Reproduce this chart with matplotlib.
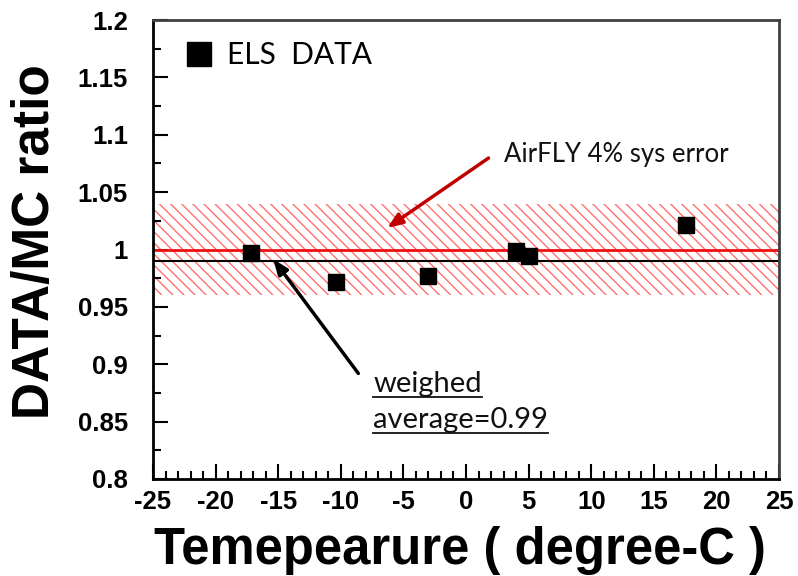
import matplotlib
matplotlib.use("Agg")
import matplotlib.pyplot as plt
from matplotlib.lines import Line2D
from matplotlib.ticker import FixedLocator, MultipleLocator

# ---- data ----
temperature = [-17.2, -10.4, -3.0, 4.0, 5.0, 17.6]
ratio = [0.997, 0.972, 0.977, 0.999, 0.994, 1.021]
reference_value = 1.0
weighted_average = 0.99
sys_band = (0.96, 1.04)
x_ticks = [-25, -20, -15, -10, -5, 0, 5, 10, 15, 20, 25]
y_ticks = [0.8, 0.85, 0.9, 0.95, 1.0, 1.05, 1.1, 1.15, 1.2]
y_tick_labels = ["0.8", "0.85", "0.9", "0.95", "1", "1.05", "1.1", "1.15", "1.2"]
legend_label = "ELS  DATA"
sys_label = "AirFLY 4% sys error"
avg_lines = ["weighed", "average=0.99"]

plt.rcParams['font.family'] = ['Liberation Sans', 'DejaVu Sans']
plt.rcParams['axes.unicode_minus'] = False

fig = plt.figure(figsize=(7.98, 5.76), dpi=100)
ax = fig.add_axes([153/798, 1-479/576, (779-153)/798, (479-20)/576])

ax.set_xlim(-25, 25)
ax.set_ylim(0.8, 1.2)

# hatched systematic band
ax.axhspan(sys_band[0], sys_band[1], facecolor='none', edgecolor='#ff7070',
           hatch='\\\\\\', linewidth=0, zorder=1)
ax.axhline(reference_value, color='#ee1111', lw=2.0, zorder=2)
ax.axhline(weighted_average, color='black', lw=1.5, zorder=2)

ax.plot(temperature, ratio, 's', color='black', markersize=11.5, zorder=4)

# legend
handle = Line2D([], [], marker='s', color='black', linestyle='none', markersize=17)
leg = ax.legend([handle], [legend_label], loc='upper left', frameon=False,
                bbox_to_anchor=(0.006, 1.012), handletextpad=0.45, handlelength=1.0,
                prop={'family': 'Lato', 'size': 21.5})

# annotations
ax.annotate('', xy=(-6.3, 1.0187), xytext=(1.8, 1.0797),
            arrowprops=dict(arrowstyle='-|>,head_length=0.9,head_width=0.35',
                            color='#c00000', lw=2.5, shrinkA=0, shrinkB=0), zorder=5)
ax.text(3.0, 1.0763, sys_label, fontsize=18.5, family='Lato', color='#111111',
        ha='left', va='baseline')

ax.annotate('', xy=(-15.4, 0.9917), xytext=(-8.6, 0.892),
            arrowprops=dict(arrowstyle='-|>,head_length=0.9,head_width=0.35',
                            color='black', lw=2.5, shrinkA=0, shrinkB=0), zorder=5)
avg_texts = []
for line, yb in zip(avg_lines, [0.8758, 0.8444]):
    avg_texts.append(ax.text(-7.4, yb, line, fontsize=21, family='Lato', color='#111111',
                             ha='left', va='baseline'))

# ticks
ax.xaxis.set_major_locator(FixedLocator(x_ticks))
ax.xaxis.set_minor_locator(MultipleLocator(1))
ax.yaxis.set_major_locator(FixedLocator(y_ticks))
ax.set_yticklabels(y_tick_labels)
ax.yaxis.set_minor_locator(MultipleLocator(0.025))
ax.tick_params(which='both', direction='in', top=False, right=False, width=1.5, color='black')
ax.tick_params(axis='x', which='major', length=11, labelsize=18.5, pad=8)
ax.tick_params(axis='x', which='minor', length=5.5)
ax.tick_params(axis='y', which='major', length=11, labelsize=18.5, pad=18)
ax.tick_params(axis='y', which='minor', length=5.5)
for lab in ax.get_xticklabels() + ax.get_yticklabels():
    lab.set_fontweight('bold')

for side in ['left', 'bottom']:
    ax.spines[side].set_linewidth(2)
    ax.spines[side].set_color('black')
for side in ['top', 'right']:
    ax.spines[side].set_linewidth(2)
    ax.spines[side].set_color('#404040')

ax.set_xlabel("Temepearure ( degree-C )", fontsize=36.5, fontweight='bold', va='top')
ax.xaxis.set_label_coords(0.49, -0.102)
ax.set_ylabel("DATA/MC ratio", fontsize=37, fontweight='bold', va='center')
ax.yaxis.set_label_coords(-0.187, 0.517)

# underline the average text
fig.canvas.draw()
r = fig.canvas.get_renderer()
inv = ax.transData.inverted()
for t in avg_texts:
    bb = t.get_window_extent(r)
    x0, _ = inv.transform((bb.x0, 0))
    x1, _ = inv.transform((bb.x1, 0))
    _, yb = t.get_position()
    ax.plot([x0, x1], [yb - 0.0045, yb - 0.0045], color='#111111', lw=1.3, zorder=5)

fig.savefig("out.png", dpi=100)
